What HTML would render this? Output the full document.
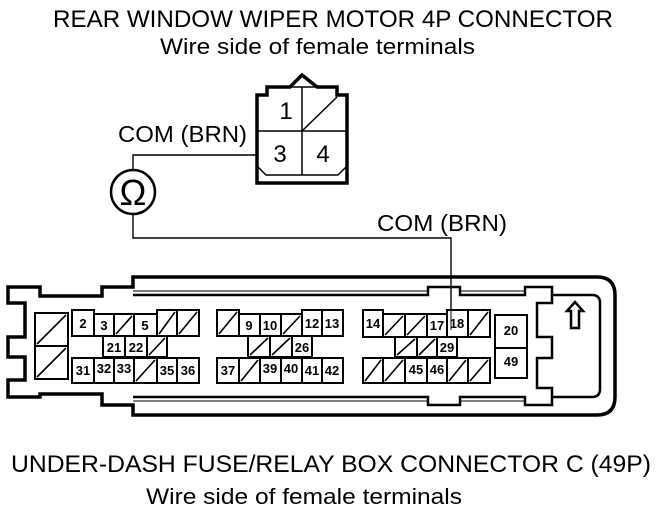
<!DOCTYPE html>
<html><head><meta charset="utf-8"><style>
html,body{margin:0;padding:0;background:#fff;}
svg{display:block;}
text{font-family:"Liberation Sans",sans-serif;fill:#000;}
.n{font-weight:bold;font-size:13px;text-anchor:middle;}
</style></head><body>
<svg width="672" height="516" viewBox="0 0 672 516" xmlns="http://www.w3.org/2000/svg">
<text x="53" y="27" font-size="24" textLength="560" lengthAdjust="spacingAndGlyphs">REAR WINDOW WIPER MOTOR 4P CONNECTOR</text>
<text x="160" y="54" font-size="22" textLength="315" lengthAdjust="spacingAndGlyphs">Wire side of female terminals</text>
<text x="118" y="142" font-size="23" textLength="129" lengthAdjust="spacingAndGlyphs">COM (BRN)</text>
<text x="377" y="231" font-size="23" textLength="130" lengthAdjust="spacingAndGlyphs">COM (BRN)</text>
<text x="11" y="472" font-size="24" textLength="640" lengthAdjust="spacingAndGlyphs">UNDER-DASH FUSE/RELAY BOX CONNECTOR C (49P)</text>
<text x="146" y="504" font-size="22" textLength="316" lengthAdjust="spacingAndGlyphs">Wire side of female terminals</text>

<g fill="none" stroke="#000">
<path d="M257,95 L267,95 L267,87 L290,87 L302,75 L317,87 L337,87 L337,95 L347,95 L347,183 L257,183 Z" stroke-width="3.5"/>
<path d="M290,87 L317,87" stroke-width="1.5"/>
<line x1="302" y1="87" x2="302" y2="175" stroke-width="1.5"/>
<line x1="257" y1="131" x2="347" y2="131" stroke-width="1.5"/>
<path d="M257,166 L266,175 L338,175 L347,166" stroke-width="1.5"/>
<line x1="302" y1="131" x2="337" y2="97" stroke-width="1.5"/>
</g>
<text x="286" y="119" font-size="24" text-anchor="middle">1</text>
<text x="280" y="162" font-size="24" text-anchor="middle">3</text>
<text x="323" y="162" font-size="24" text-anchor="middle">4</text>

<g fill="none" stroke="#000" stroke-width="1.4">
<polyline points="257,155 133,155 133,170"/>
<polyline points="133,215 133,238 451,238 451,330"/>
<circle cx="133" cy="192" r="22" stroke-width="2.5"/>
</g>
<text x="133" y="205" font-size="36" text-anchor="middle">Ω</text>

<g fill="none" stroke="#000" stroke-width="3.5">
<path d="M133,277 L597,277 Q615,277 615,295 L615,397 Q615,415 597,415 L133,415 L133,405 L102,405 L102,394 L40,394 L40,397 L8,397 L8,380 L25,380 L25,357 L8,357 L8,337 L25,337 L25,303 L8,303 L8,287 L40,287 L40,296 L102,296 L102,287 L133,287 Z"/>
<path d="M133,295 L428,295 L428,287 L460,287 L460,295 L525,295 L525,287 L552,287 L552,295 L592,295 Q600,295 600,303 L600,389 Q600,397 592,397 L552,397 L552,405 L525,405 L525,397 L460,397 L460,405 L428,405 L428,397 L133,397" stroke-width="2.5"/>
<path d="M552,295 L552,303 L537,303 L537,337 L552,337 L552,358 L537,358 L537,388 L552,388 L552,397" stroke-width="2.5"/>
</g>
<g fill="none" stroke="#000" stroke-width="1">
<line x1="133" y1="291" x2="428" y2="291"/>
<line x1="133" y1="401" x2="428" y2="401"/>
<line x1="460" y1="291" x2="525" y2="291"/>
<line x1="460" y1="401" x2="525" y2="401"/>
</g>
<path d="M575,302 L583,311 L579,311 L579,328 L571,328 L571,311 L567,311 Z" fill="none" stroke="#000" stroke-width="2.5"/>

<g fill="#fff" stroke="#000" stroke-width="2">
<rect x="35" y="313" width="33" height="33"/><rect x="35" y="346" width="33" height="33"/>
<rect x="72" y="310" width="22" height="26"/><rect x="94" y="314" width="20" height="22"/><rect x="114" y="314" width="20" height="22"/><rect x="134" y="314" width="23" height="22"/><rect x="157" y="310" width="20" height="26"/><rect x="177" y="310" width="22" height="26"/>
<rect x="103" y="336" width="22" height="21"/><rect x="125" y="336" width="22" height="21"/><rect x="147" y="336" width="20" height="21"/>
<rect x="72" y="358" width="22" height="25"/><rect x="94" y="358" width="20" height="25"/><rect x="114" y="358" width="20" height="25"/><rect x="134" y="358" width="23" height="25"/><rect x="157" y="358" width="20" height="25"/><rect x="177" y="358" width="22" height="25"/>
<rect x="217" y="310" width="22" height="26"/><rect x="239" y="314" width="21" height="22"/><rect x="260" y="314" width="21" height="22"/><rect x="281" y="314" width="21" height="22"/><rect x="302" y="310" width="20" height="26"/><rect x="322" y="310" width="21" height="26"/>
<rect x="248" y="336" width="22" height="21"/><rect x="270" y="336" width="22" height="21"/><rect x="292" y="336" width="20" height="21"/>
<rect x="217" y="358" width="22" height="25"/><rect x="239" y="358" width="21" height="25"/><rect x="260" y="358" width="21" height="25"/><rect x="281" y="358" width="21" height="25"/><rect x="302" y="358" width="20" height="25"/><rect x="322" y="358" width="21" height="25"/>
<rect x="363" y="310" width="20" height="27"/><rect x="383" y="314" width="22" height="23"/><rect x="405" y="314" width="22" height="23"/><rect x="427" y="314" width="20" height="23"/><rect x="447" y="310" width="21" height="27"/><rect x="468" y="310" width="22" height="27"/>
<rect x="395" y="337" width="22" height="20"/><rect x="417" y="337" width="20" height="20"/><rect x="437" y="337" width="20" height="20"/>
<rect x="363" y="358" width="20" height="25"/><rect x="383" y="358" width="22" height="25"/><rect x="405" y="358" width="22" height="25"/><rect x="427" y="358" width="20" height="25"/><rect x="447" y="358" width="21" height="25"/><rect x="468" y="358" width="22" height="25"/>
<rect x="495" y="315" width="32" height="33"/><rect x="495" y="348" width="32" height="30"/>
</g>
<g stroke="#000" stroke-width="1.6">
<line x1="37" y1="344" x2="66" y2="315"/><line x1="37" y1="377" x2="66" y2="348"/>
<line x1="116" y1="334" x2="132" y2="316"/><line x1="159" y1="334" x2="175" y2="312"/><line x1="179" y1="334" x2="197" y2="312"/>
<line x1="149" y1="355" x2="165" y2="338"/>
<line x1="136" y1="381" x2="155" y2="360"/>
<line x1="219" y1="334" x2="237" y2="312"/><line x1="283" y1="334" x2="300" y2="316"/>
<line x1="250" y1="355" x2="268" y2="338"/><line x1="272" y1="355" x2="290" y2="338"/>
<line x1="241" y1="381" x2="258" y2="360"/>
<line x1="385" y1="335" x2="403" y2="316"/><line x1="407" y1="335" x2="425" y2="316"/><line x1="470" y1="335" x2="488" y2="312"/>
<line x1="397" y1="355" x2="415" y2="339"/><line x1="419" y1="355" x2="435" y2="339"/>
<line x1="365" y1="381" x2="381" y2="360"/><line x1="385" y1="381" x2="403" y2="360"/><line x1="449" y1="381" x2="466" y2="360"/><line x1="470" y1="381" x2="488" y2="360"/>
</g>
<line x1="451" y1="290" x2="451" y2="330" stroke="#000" stroke-width="1"/>
<g>
<text class="n" x="83" y="328">2</text><text class="n" x="104" y="330">3</text><text class="n" x="145" y="330">5</text>
<text class="n" x="114" y="352">21</text><text class="n" x="136" y="352">22</text>
<text class="n" x="83" y="375">31</text><text class="n" x="104" y="373">32</text><text class="n" x="124" y="373">33</text><text class="n" x="167" y="375">35</text><text class="n" x="188" y="375">36</text>
<text class="n" x="249" y="330">9</text><text class="n" x="270" y="330">10</text><text class="n" x="312" y="328">12</text><text class="n" x="332" y="328">13</text>
<text class="n" x="302" y="352">26</text>
<text class="n" x="228" y="375">37</text><text class="n" x="270" y="373">39</text><text class="n" x="291" y="373">40</text><text class="n" x="312" y="375">41</text><text class="n" x="332" y="375">42</text>
<text class="n" x="373" y="328">14</text><text class="n" x="437" y="330">17</text><text class="n" x="457" y="328">18</text>
<text class="n" x="447" y="352">29</text>
<text class="n" x="416" y="374">45</text><text class="n" x="437" y="374">46</text>
<text class="n" x="511" y="335">20</text><text class="n" x="511" y="366">49</text>
</g>
</svg>
</body></html>
